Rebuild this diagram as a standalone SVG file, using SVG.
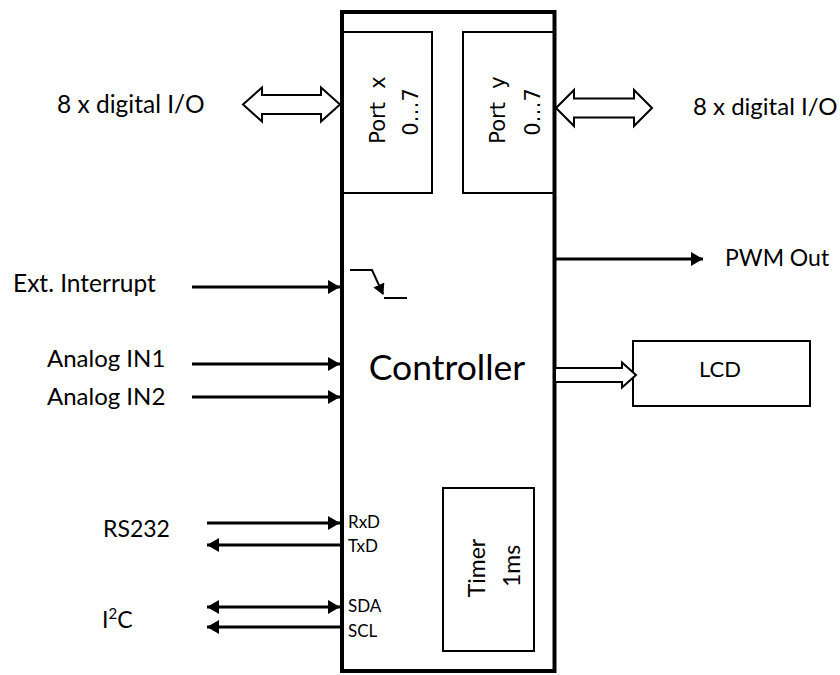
<svg xmlns="http://www.w3.org/2000/svg" width="840" height="675" viewBox="0 0 840 675">
<style>
  .lbl { font-family: Lato, "Liberation Sans", sans-serif; fill: #000; }
  .port { font-family: "DejaVu Sans", Verdana, sans-serif; fill: #000; font-size: 21px; }
  .box { fill: #fff; stroke: #000; stroke-width: 2; }
  .main { fill: #fff; stroke: #000; stroke-width: 4; }
  .wire { fill: none; stroke: #000; stroke-width: 3; }
  .hollow { fill: #fff; stroke: #000; stroke-width: 2; stroke-linejoin: miter; }
</style>
<defs>
  <marker id="ah" markerUnits="userSpaceOnUse" markerWidth="12" markerHeight="14" refX="12" refY="7" orient="auto-start-reverse" viewBox="0 0 12 14">
    <path d="M0,0 L12,7 L0,14 z" fill="#000"/>
  </marker>
  <marker id="ahs" markerUnits="userSpaceOnUse" markerWidth="11" markerHeight="12" refX="10" refY="6" orient="auto" viewBox="0 0 11 12">
    <path d="M0,0 L11,6 L0,12 z" fill="#000"/>
  </marker>
</defs>
<rect width="840" height="675" fill="#fff"/>

<g id="controller">
  <rect class="main" x="342" y="12" width="212.5" height="659"/>
  <text class="lbl" x="447" y="380" font-size="35.5" text-anchor="middle">Controller</text>
  <text class="lbl" x="348" y="528" font-size="17">RxD</text>
  <text class="lbl" x="348" y="552" font-size="17">TxD</text>
  <text class="lbl" x="348" y="612" font-size="17">SDA</text>
  <text class="lbl" x="348" y="637" font-size="17">SCL</text>
  <g id="interrupt-symbol">
    <polyline class="wire" style="stroke-width:2" points="350,270 372,270 383,294" marker-end="url(#ahs)"/>
    <line x1="384" y1="298" x2="407" y2="298" stroke="#000" stroke-width="2"/>
  </g>
</g>

<g id="port-x">
  <rect class="box" x="343" y="32" width="89" height="161"/>
  <text class="port" transform="translate(385,110) rotate(-90)" text-anchor="middle" xml:space="preserve">Port  x</text>
  <text class="port" transform="translate(418,112) rotate(-90)" text-anchor="middle">0…7</text>
</g>

<g id="port-y">
  <rect class="box" x="463" y="32" width="90.5" height="161"/>
  <text class="port" transform="translate(505,110) rotate(-90)" text-anchor="middle" xml:space="preserve">Port  y</text>
  <text class="port" transform="translate(540,112) rotate(-90)" text-anchor="middle">0…7</text>
</g>

<g id="timer">
  <rect class="box" x="443" y="488" width="91" height="163"/>
  <text class="lbl" transform="translate(485,568) rotate(-90)" font-size="23" text-anchor="middle">Timer</text>
  <text class="lbl" transform="translate(520,566) rotate(-90)" font-size="23" text-anchor="middle">1ms</text>
</g>

<g id="lcd">
  <rect class="box" x="633" y="341" width="177" height="65"/>
  <text class="lbl" x="720" y="377" font-size="22" text-anchor="middle">LCD</text>
</g>

<g id="labels">
  <text class="lbl" x="57" y="113" font-size="24.5">8 x digital I/O</text>
  <text class="lbl" x="693" y="115" font-size="24">8 x digital I/O</text>
  <text class="lbl" x="13" y="292" font-size="24.5">Ext. Interrupt</text>
  <text class="lbl" x="47" y="367" font-size="24">Analog IN1</text>
  <text class="lbl" x="47" y="405" font-size="24">Analog IN2</text>
  <text class="lbl" x="103" y="537" font-size="23">RS232</text>
  <text class="lbl" x="102" y="628" font-size="23">I<tspan font-size="15" dy="-9">2</tspan><tspan dy="9">C</tspan></text>
  <text class="lbl" x="725" y="266" font-size="23">PWM Out</text>
</g>

<g id="connectors">
  <path class="hollow" d="M243,104.5 L262,87.5 L262,95 L321,95 L321,87.5 L340,104.5 L321,121.5 L321,114 L262,114 L262,121.5 Z"/>
  <path class="hollow" d="M556,108 L574,90 L574,98.5 L634,98.5 L634,90 L652,108 L634,126 L634,117.5 L574,117.5 L574,126 Z"/>
  <path class="hollow" d="M556,368 L622,368 L622,362.5 L636,375 L622,387.5 L622,382 L556,382"/>
  <line class="wire" x1="192" y1="287" x2="340" y2="287" marker-end="url(#ah)"/>
  <line class="wire" x1="192" y1="364" x2="340" y2="364" marker-end="url(#ah)"/>
  <line class="wire" x1="192" y1="397" x2="340" y2="397" marker-end="url(#ah)"/>
  <line class="wire" x1="556" y1="259" x2="703" y2="259" marker-end="url(#ah)"/>
  <line class="wire" x1="207" y1="523" x2="340" y2="523" marker-end="url(#ah)"/>
  <line class="wire" x1="340" y1="545" x2="207" y2="545" marker-end="url(#ah)"/>
  <line class="wire" x1="207" y1="607" x2="340" y2="607" marker-start="url(#ah)" marker-end="url(#ah)"/>
  <line class="wire" x1="340" y1="627" x2="207" y2="627" marker-end="url(#ah)"/>
</g>
</svg>
